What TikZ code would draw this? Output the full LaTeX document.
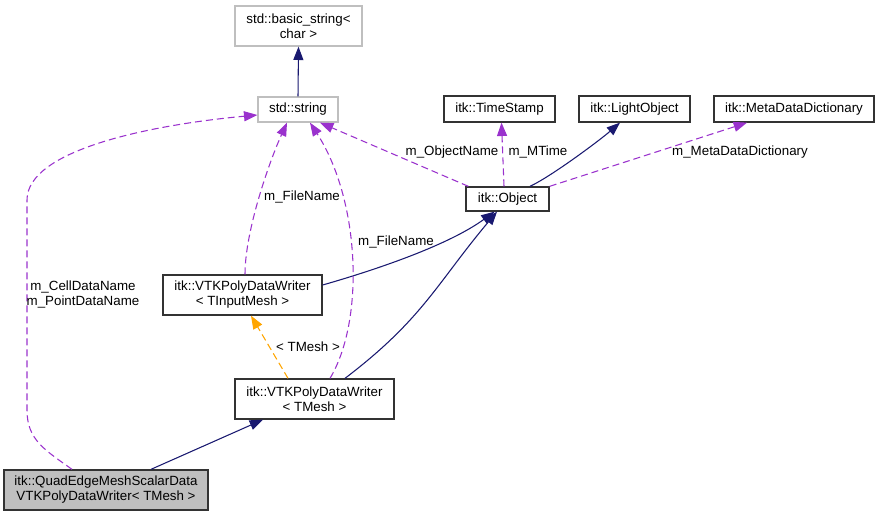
\documentclass[tikz,border=0pt]{standalone}
\usepackage{fontspec}
\setmainfont{Liberation Sans}
\usetikzlibrary{arrows.meta,calc}
\definecolor{navy}{HTML}{191970}
\definecolor{usepurple}{HTML}{9A32CD}
\definecolor{tmplorange}{HTML}{FFA500}
\definecolor{boxgray}{HTML}{BFBFBF}
\begin{document}
\begin{tikzpicture}[x=0.75pt,y=-0.75pt,
  every node/.style={font=\fontsize{10}{11.25}\selectfont},
  box/.style={draw=black!80,line width=1pt,inner sep=0pt,align=center,fill=white},
  graybox/.style={box,draw=boxgray},
  tipstyle/.style={-{Triangle[length=10pt,width=7.5pt]}},
  inh/.style={draw=navy,line width=0.8pt,tipstyle},
  usage/.style={draw=usepurple,line width=0.8pt,dash pattern=on 5.25pt off 3pt,tipstyle},
  tmpl/.style={draw=tmplorange,line width=0.8pt,dash pattern=on 5.25pt off 3pt,tipstyle},
  lbl/.style={inner sep=0pt,align=center}]
\useasboundingbox (0,0) rectangle (880,516);
% nodes
\node[graybox,minimum width=95.25pt,minimum height=30pt] (bs) at (298.5,26) {std::basic\_string<\\char >};
\node[graybox,minimum width=60pt,minimum height=18.75pt] (str) at (298,109.5) {std::string};
\node[box,minimum width=83.25pt,minimum height=19.5pt] (ts) at (499.5,109) {itk::TimeStamp};
\node[box,minimum width=83.25pt,minimum height=19.5pt] (lo) at (634.5,109) {itk::LightObject};
\node[box,minimum width=120pt,minimum height=19.5pt] (md) at (794,109) {itk::MetaDataDictionary};
\node[box,minimum width=62.25pt,minimum height=18pt] (obj) at (507.5,199) {itk::Object};
\node[box,minimum width=119.25pt,minimum height=30pt] (wim) at (242.5,295) {itk::VTKPolyDataWriter\\< TInputMesh >};
\node[box,minimum width=119.25pt,minimum height=30pt] (wm) at (314.5,399) {itk::VTKPolyDataWriter\\< TMesh >};
\node[box,fill=boxgray,minimum width=153pt,minimum height=30pt] (quad) at (106,490) {itk::QuadEdgeMeshScalarData\\VTKPolyDataWriter< TMesh >};
% edges
\draw[inh] (str.north) -- (bs.south);
\draw[inh] ($(quad.north)+(45,0)$) -- ($(wm.south)+(-51.5,0)$);
\draw[tmpl] ($(wm.north)+(-26.5,0)$) -- ($(wim.south)+(8.5,0)$);
\node[lbl] (ltm) at (308,347) {< TMesh >};
\draw[inh] ($(wm.north)+(30.5,0)$) .. controls (423,319) and (437,283) .. ($(obj.south)+(-10.5,0)$);
\draw[inh] ($(wim.east)+(0,-10)$) .. controls (382,268) and (450,244) .. ($(obj.south)+(-13,0)$);
\draw[inh] ($(obj.north)+(22.5,0)$) .. controls (552,176) and (600,140) .. ($(lo.south)+(-14.5,0)$);
\draw[usage] ($(obj.north)+(-3.5,0)$) -- ($(ts.south)+(2,0)$);
\node[lbl] (lmt) at (538,152) {m\_MTime};
\draw[usage] (obj.north east) -- ($(md.south)+(-47,0)$);
\node[lbl] (lmd) at (740,152) {m\_MetaDataDictionary};
\draw[usage] ($(obj.north west)+(3,0)$) -- ($(str.south)+(22,0)$);
\node[lbl] (lon) at (452,152) {m\_ObjectName};
\draw[usage] ($(wim.north)+(2.5,0)$) .. controls (245,230) and (270,160) .. ($(str.south)+(-11,0)$);
\node[lbl] (lf1) at (302,197) {m\_FileName};
\draw[usage] ($(wm.north)+(15.5,0)$) .. controls (365,320) and (360,200) .. ($(str.south)+(12,0)$);
\node[lbl] (lf2) at (396,242) {m\_FileName};
\draw[usage] ($(quad.north)+(-34,0)$) .. controls (45,450) and (27,440) .. (27,410) -- (27,200) .. controls (27,150) and (150,125) .. ($(str.west)+(0,5.5)$);
\node[lbl] (lcd) at (83,294) {m\_CellDataName\\m\_PointDataName};
\end{tikzpicture}
\end{document}
